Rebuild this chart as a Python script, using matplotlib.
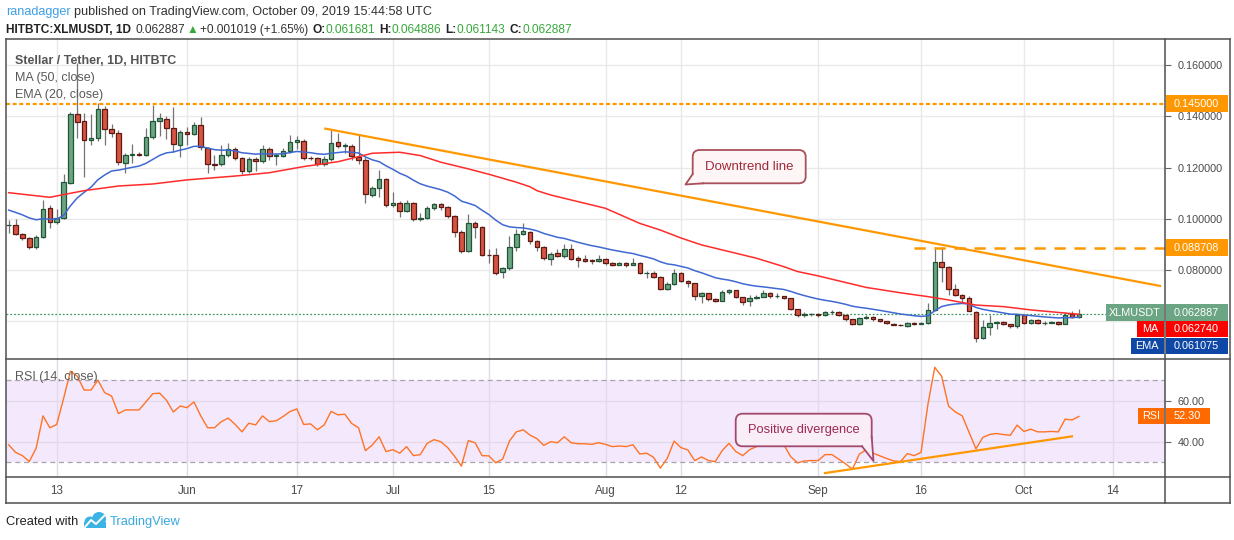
import numpy as np
import pandas as pd
import matplotlib
matplotlib.use("Agg")
import matplotlib.pyplot as plt
import matplotlib.dates as mdates
from matplotlib.patches import Rectangle, FancyBboxPatch, Polygon, Circle

FONT = ["Liberation Sans", "DejaVu Sans"]
plt.rcParams["font.family"] = FONT

# ---- data (XLM/USDT daily, HitBTC) ----
dates = pd.date_range("2019-05-06", "2019-10-09", freq="D")

opens = [0.0974, 0.0976, 0.0940, 0.0924, 0.0891, 0.0928, 0.1041, 0.0986, 0.1002, 0.1139,
         0.1409, 0.1383, 0.1308, 0.1315, 0.1428, 0.1350, 0.1334, 0.1218, 0.1249, 0.1254,
         0.1251, 0.1318, 0.1381, 0.1389, 0.1354, 0.1289, 0.1338, 0.1331, 0.1367, 0.1276,
         0.1215, 0.1213, 0.1248, 0.1272, 0.1237, 0.1187, 0.1232, 0.1224, 0.1272, 0.1245,
         0.1246, 0.1265, 0.1299, 0.1305, 0.1238, 0.1236, 0.1213, 0.1232, 0.1299, 0.1284,
         0.1286, 0.1243, 0.1230, 0.1093, 0.1122, 0.1154, 0.1054, 0.1061, 0.1032, 0.1061,
         0.0998, 0.1004, 0.1041, 0.1057, 0.1045, 0.1012, 0.0950, 0.0876, 0.0982, 0.0967,
         0.0859, 0.0857, 0.0793, 0.0807, 0.0889, 0.0940, 0.0947, 0.0914, 0.0891, 0.0842,
         0.0865, 0.0856, 0.0881, 0.0845, 0.0842, 0.0838, 0.0836, 0.0842, 0.0829, 0.0821,
         0.0827, 0.0821, 0.0826, 0.0787, 0.0790, 0.0774, 0.0725, 0.0745, 0.0787, 0.0758,
         0.0748, 0.0699, 0.0709, 0.0688, 0.0680, 0.0713, 0.0721, 0.0693, 0.0680, 0.0690,
         0.0696, 0.0710, 0.0697, 0.0697, 0.0690, 0.0646, 0.0624, 0.0627, 0.0627, 0.0626,
         0.0635, 0.0636, 0.0623, 0.0607, 0.0588, 0.0611, 0.0616, 0.0607, 0.0600, 0.0588,
         0.0586, 0.0582, 0.0593, 0.0590, 0.0594, 0.0643, 0.0830, 0.0811, 0.0725, 0.0701,
         0.0690, 0.0637, 0.0533, 0.0576, 0.0592, 0.0597, 0.0588, 0.0582, 0.0623, 0.0592,
         0.0605, 0.0594, 0.0594, 0.0597, 0.0591, 0.0628, 0.061681]

highs = [0.0995, 0.0998, 0.0945, 0.0927, 0.0935, 0.1073, 0.1054, 0.1038, 0.1174, 0.1418,
         0.1610, 0.1412, 0.1409, 0.1452, 0.1440, 0.1372, 0.1345, 0.1258, 0.1292, 0.1262,
         0.1353, 0.1445, 0.1412, 0.1400, 0.1438, 0.1347, 0.1360, 0.1379, 0.1399, 0.1280,
         0.1249, 0.1288, 0.1297, 0.1280, 0.1240, 0.1240, 0.1240, 0.1290, 0.1280, 0.1256,
         0.1275, 0.1327, 0.1323, 0.1310, 0.1245, 0.1240, 0.1245, 0.1350, 0.1336, 0.1295,
         0.1292, 0.1331, 0.1240, 0.1130, 0.1191, 0.1160, 0.1106, 0.1070, 0.1075, 0.1065,
         0.1021, 0.1050, 0.1062, 0.1060, 0.1050, 0.1015, 0.0955, 0.1018, 0.0990, 0.0970,
         0.0881, 0.0887, 0.0812, 0.0933, 0.0960, 0.0982, 0.0952, 0.0918, 0.0895, 0.0870,
         0.0881, 0.0902, 0.0902, 0.0855, 0.0859, 0.0843, 0.0859, 0.0846, 0.0832, 0.0832,
         0.0830, 0.0846, 0.0830, 0.0795, 0.0795, 0.0778, 0.0752, 0.0803, 0.0792, 0.0760,
         0.0750, 0.0716, 0.0712, 0.0692, 0.0722, 0.0725, 0.0723, 0.0695, 0.0702, 0.0702,
         0.0722, 0.0716, 0.0710, 0.0700, 0.0692, 0.0648, 0.0635, 0.0632, 0.0631, 0.0640,
         0.0645, 0.0638, 0.0625, 0.0610, 0.0618, 0.0625, 0.0620, 0.0610, 0.0602, 0.0592,
         0.0588, 0.0597, 0.0597, 0.0598, 0.0670, 0.0889, 0.0889, 0.0815, 0.0745, 0.0705,
         0.0698, 0.0640, 0.0605, 0.0624, 0.0600, 0.0600, 0.0590, 0.0628, 0.0628, 0.0610,
         0.0607, 0.0600, 0.0600, 0.0600, 0.0635, 0.0638, 0.064886]

lows = [0.0944, 0.0935, 0.0918, 0.0881, 0.0883, 0.0925, 0.0963, 0.0980, 0.0998, 0.1135,
        0.1314, 0.1164, 0.1290, 0.1305, 0.1289, 0.1320, 0.1210, 0.1180, 0.1217, 0.1245,
        0.1247, 0.1313, 0.1323, 0.1310, 0.1260, 0.1243, 0.1288, 0.1328, 0.1270, 0.1178,
        0.1191, 0.1205, 0.1240, 0.1230, 0.1175, 0.1180, 0.1185, 0.1218, 0.1230, 0.1210,
        0.1240, 0.1258, 0.1271, 0.1230, 0.1230, 0.1205, 0.1205, 0.1225, 0.1278, 0.1256,
        0.1230, 0.1215, 0.1061, 0.1085, 0.1085, 0.1048, 0.1048, 0.1008, 0.1025, 0.0990,
        0.0992, 0.1000, 0.1035, 0.1035, 0.1005, 0.0928, 0.0865, 0.0870, 0.0924, 0.0855,
        0.0829, 0.0780, 0.0767, 0.0800, 0.0875, 0.0935, 0.0900, 0.0875, 0.0840, 0.0820,
        0.0850, 0.0845, 0.0838, 0.0813, 0.0830, 0.0825, 0.0832, 0.0820, 0.0816, 0.0818,
        0.0812, 0.0818, 0.0783, 0.0770, 0.0768, 0.0722, 0.0720, 0.0740, 0.0755, 0.0735,
        0.0683, 0.0670, 0.0680, 0.0675, 0.0678, 0.0708, 0.0690, 0.0665, 0.0661, 0.0685,
        0.0693, 0.0692, 0.0690, 0.0686, 0.0643, 0.0615, 0.0617, 0.0620, 0.0618, 0.0622,
        0.0630, 0.0620, 0.0600, 0.0585, 0.0586, 0.0608, 0.0600, 0.0597, 0.0590, 0.0584,
        0.0582, 0.0578, 0.0587, 0.0588, 0.0590, 0.0640, 0.0752, 0.0702, 0.0698, 0.0670,
        0.0638, 0.0520, 0.0530, 0.0548, 0.0568, 0.0585, 0.0575, 0.0575, 0.0588, 0.0588,
        0.0588, 0.0587, 0.0592, 0.0586, 0.0588, 0.0612, 0.061143]

closes = [0.0977, 0.0940, 0.0924, 0.0889, 0.0928, 0.1037, 0.0986, 0.1002, 0.1143, 0.1409,
          0.1379, 0.1308, 0.1315, 0.1428, 0.1350, 0.1334, 0.1221, 0.1249, 0.1252, 0.1251,
          0.1318, 0.1381, 0.1393, 0.1354, 0.1292, 0.1339, 0.1331, 0.1367, 0.1279, 0.1214,
          0.1212, 0.1248, 0.1272, 0.1237, 0.1187, 0.1232, 0.1224, 0.1272, 0.1245, 0.1249,
          0.1265, 0.1299, 0.1308, 0.1236, 0.1236, 0.1213, 0.1232, 0.1295, 0.1284, 0.1290,
          0.1245, 0.1230, 0.1096, 0.1122, 0.1154, 0.1054, 0.1063, 0.1032, 0.1061, 0.0998,
          0.1004, 0.1041, 0.1057, 0.1045, 0.1012, 0.0950, 0.0876, 0.0982, 0.0967, 0.0859,
          0.0857, 0.0787, 0.0807, 0.0889, 0.0940, 0.0952, 0.0914, 0.0891, 0.0846, 0.0862,
          0.0856, 0.0881, 0.0842, 0.0839, 0.0836, 0.0836, 0.0842, 0.0829, 0.0821, 0.0827,
          0.0821, 0.0826, 0.0787, 0.0790, 0.0774, 0.0725, 0.0745, 0.0787, 0.0758, 0.0748,
          0.0698, 0.0709, 0.0688, 0.0680, 0.0713, 0.0721, 0.0693, 0.0674, 0.0690, 0.0696,
          0.0710, 0.0697, 0.0697, 0.0690, 0.0646, 0.0623, 0.0627, 0.0627, 0.0626, 0.0635,
          0.0636, 0.0623, 0.0607, 0.0588, 0.0613, 0.0618, 0.0607, 0.0602, 0.0593, 0.0586,
          0.0584, 0.0593, 0.0590, 0.0594, 0.0643, 0.0830, 0.0811, 0.0725, 0.0701, 0.0690,
          0.0640, 0.0533, 0.0576, 0.0592, 0.0597, 0.0588, 0.0582, 0.0623, 0.0592, 0.0605,
          0.0592, 0.0594, 0.0597, 0.0591, 0.0625, 0.0617, 0.062887]

rsi = [38.5, 34.8, 33.2, 30.3, 36.8, 52.6, 46.8, 48.4, 61.0, 74.4,
       71.9, 65.2, 65.2, 70.0, 63.9, 62.3, 53.7, 55.5, 55.5, 55.5,
       59.4, 63.4, 63.7, 60.2, 54.5, 57.4, 56.6, 59.4, 52.6, 46.8,
       46.8, 49.8, 51.5, 48.5, 44.8, 49.0, 48.2, 52.6, 49.8, 50.2,
       52.3, 54.7, 56.0, 48.4, 48.7, 45.8, 48.2, 54.8, 53.1, 53.4,
       48.9, 46.8, 35.6, 38.4, 42.4, 35.2, 36.1, 34.4, 37.6, 33.2,
       33.7, 39.2, 41.0, 40.0, 37.1, 32.9, 28.1, 40.5, 39.5, 33.2,
       33.1, 29.7, 31.5, 40.3, 44.8, 45.8, 43.2, 41.5, 38.2, 40.0,
       39.5, 42.4, 39.5, 39.0, 39.0, 38.7, 39.5, 38.7, 37.6, 37.9,
       37.6, 38.5, 34.0, 34.4, 32.4, 27.1, 31.9, 40.3, 37.1, 36.0,
       30.8, 32.6, 30.8, 30.3, 35.6, 39.2, 35.2, 33.2, 36.1, 37.6,
       40.8, 39.0, 40.0, 38.5, 32.7, 29.7, 30.6, 30.8, 30.8, 33.7,
       33.7, 31.5, 29.2, 26.6, 33.9, 36.1, 34.4, 33.1, 31.8, 30.6,
       30.3, 34.2, 33.2, 34.8, 58.2, 76.3, 71.9, 57.4, 54.5, 52.6,
       44.5, 36.5, 42.1, 43.5, 44.0, 43.5, 43.1, 48.1, 45.0, 46.1,
       44.8, 44.8, 45.0, 44.8, 51.0, 50.6, 52.3]

# 50-day MA read at points along the red line
ma_dates = ["2019-05-06", "2019-05-12", "2019-05-17", "2019-05-22", "2019-05-27", "2019-06-01",
            "2019-06-08", "2019-06-13", "2019-06-18", "2019-06-23", "2019-06-28", "2019-07-02",
            "2019-07-05", "2019-07-08", "2019-07-12", "2019-07-15", "2019-07-19", "2019-07-21",
            "2019-07-22", "2019-07-24", "2019-08-01", "2019-08-06", "2019-08-09", "2019-08-12",
            "2019-08-15", "2019-08-19", "2019-08-23", "2019-08-27", "2019-08-29", "2019-09-01",
            "2019-09-03", "2019-09-08", "2019-09-13", "2019-09-17", "2019-09-20", "2019-09-24",
            "2019-09-28", "2019-10-02", "2019-10-09"]
ma_vals = [0.1102, 0.1084, 0.1110, 0.1128, 0.1136, 0.1152, 0.1167, 0.1180, 0.1204, 0.1223,
           0.1256, 0.1260, 0.1247, 0.1221, 0.1195, 0.1174, 0.1143, 0.1125, 0.1110, 0.1093,
           0.1041, 0.0982, 0.0956, 0.0925, 0.0898, 0.0872, 0.0846, 0.0813, 0.0794, 0.0777,
           0.0764, 0.0732, 0.0711, 0.0696, 0.0683, 0.0663, 0.0657, 0.0644, 0.0627]
ema_seed = 0.1034  # EMA(20) value on the first visible day

price_ticks = [0.06, 0.08, 0.10, 0.12, 0.14, 0.16]
price_labels = ["", "0.080000", "0.100000", "0.120000", "0.140000", "0.160000"]
tick_dates = ["2019-05-13", "2019-06-01", "2019-06-17", "2019-07-01", "2019-07-15", "2019-08-01",
              "2019-08-12", "2019-09-01", "2019-09-16", "2019-10-01", "2019-10-14"]
tick_labels = ["13", "Jun", "17", "Jul", "15", "Aug", "12", "Sep", "16", "Oct", "14"]

resist_top = 0.145
resist_mid = 0.088708
resist_mid_from = "2019-09-15"
trend_x = ["2019-06-21", "2019-10-21"]
trend_y = [0.1353, 0.0737]
div_x = ["2019-09-02", "2019-10-08"]
div_y = [24.7, 42.6]

# ---- colours ----
UP, DN = "#6ba583", "#d75442"
UP_EDGE, DN_EDGE = "#225437", "#5b1a13"
WICK = "#737375"
ORANGE = "#ff9800"
GRID = "#e9e9ea"
FRAME = "#4f4f4f"
TXT = "#4a4a4a"

W, H = 1234, 540
fig = plt.figure(figsize=(W / 100, H / 100), dpi=100)
fig.patch.set_facecolor("white")

L, R = 6, 1165
TOP, MID, RB, BOT = 39, 359, 477, 503
ax = fig.add_axes([L / W, 1 - MID / H, (R - L) / W, (MID - TOP) / H])
rax = fig.add_axes([L / W, 1 - RB / H, (R - L) / W, (RB - MID) / H], sharex=ax)

xn = mdates.date2num(dates)
base = mdates.date2num(pd.Timestamp("2019-05-13"))
px_day = 6.86
x0 = base + (L - 56.7) / px_day
x1 = base + (R - 56.7) / px_day

o = np.array(opens); h = np.array(highs); lo = np.array(lows); c = np.array(closes)
up = c >= o

# candles
ax.vlines(xn, lo, h, color=WICK, lw=0.9, zorder=2)
ax.bar(xn[up], (c - o)[up], bottom=o[up], width=0.66, color=UP, edgecolor=UP_EDGE,
       linewidth=0.9, zorder=3)
ax.bar(xn[~up], (o - c)[~up], bottom=c[~up], width=0.66, color=DN, edgecolor=DN_EDGE,
       linewidth=0.9, zorder=3)

# indicators
ema = np.empty_like(c)
ema[0] = ema_seed
k = 2 / 21
for i in range(1, len(c)):
    ema[i] = ema[i - 1] + k * (c[i] - ema[i - 1])
ax.plot(xn, ema, color="#3f68d2", lw=1.1, zorder=4)
ax.plot(mdates.date2num(pd.to_datetime(ma_dates)), ma_vals, color="#ff2b2b", lw=1.1, zorder=4)

# drawings
ax.axhline(closes[-1], color="#3d9a62", lw=0.9, ls=(0, (1.5, 1.5)), zorder=1)
ax.axhline(resist_top, color=ORANGE, lw=1.6, ls=(0, (1.8, 1.2)), zorder=5)
ax.plot([mdates.date2num(pd.Timestamp(resist_mid_from)), x1], [resist_mid] * 2,
        color=ORANGE, lw=1.8, ls=(0, (4.5, 3.5)), zorder=5)
ax.plot(mdates.date2num(pd.to_datetime(trend_x)), trend_y, color=ORANGE, lw=1.6, zorder=5,
        solid_capstyle="butt")

ax.set_xlim(x0, x1)
ax.set_ylim(0.045234, 0.170234)
ax.set_yticks(price_ticks)
ax.set_yticklabels(price_labels)
ax.yaxis.tick_right()
ax.tick_params(axis="y", length=4, width=0.8, color="#666", pad=5, labelsize=7.8, labelcolor=TXT)
ax.tick_params(axis="x", length=0, labelbottom=False)
ax.set_xticks(mdates.date2num(pd.to_datetime(tick_dates)))
ax.grid(True, color=GRID, lw=1)
ax.set_axisbelow(True)
for s in ax.spines.values():
    s.set_visible(False)

# RSI panel
rax.axhspan(30, 70, color="#f4e8fd", zorder=0, lw=0)
rax.plot(xn, rsi, color="#ff7324", lw=1.0, zorder=4)
for lvl in (30, 70):
    rax.axhline(lvl, color="#a8a3ad", lw=0.9, ls=(0, (4, 3)), zorder=2)
rax.plot(mdates.date2num(pd.to_datetime(div_x)), div_y, color=ORANGE, lw=1.6, zorder=5)
rax.set_ylim(22.78, 80.34)
rax.set_yticks([40, 60])
rax.set_yticklabels(["40.00", "60.00"])
rax.yaxis.tick_right()
rax.tick_params(axis="y", length=4, width=0.8, color="#666", pad=5, labelsize=7.8, labelcolor=TXT)
rax.set_xticks(mdates.date2num(pd.to_datetime(tick_dates)))
rax.set_xticklabels(tick_labels)
rax.tick_params(axis="x", length=0, pad=6, labelsize=8.4, labelcolor=TXT)
rax.grid(True, color="#e2dae9", lw=1)
rax.set_axisbelow(True)
for s in rax.spines.values():
    s.set_visible(False)

# ---- overlay in pixel units for frame, labels and callouts ----
ov = fig.add_axes([0, 0, 1, 1], zorder=10)
ov.set_xlim(0, W)
ov.set_ylim(H, 0)
ov.axis("off")

RIGHT = 1230
for (xa, ya, xb, yb) in [(L, TOP, RIGHT, TOP), (L, MID, RIGHT, MID), (L, RB, RIGHT, RB),
                         (L, BOT, RIGHT, BOT), (L, TOP, L, BOT), (R, TOP, R, BOT),
                         (RIGHT, TOP, RIGHT, BOT)]:
    ov.plot([xa, xb], [ya, yb], color=FRAME, lw=1.1, solid_capstyle="projecting")


def price_px(p):
    d = ax.transData.transform((x0, p))
    return ov.transData.inverted().transform(d)[1]


def tag(y, text, color, x_a=R + 1, x_b=1228, hh=16.5):
    ov.add_patch(Rectangle((x_a, y - hh / 2), x_b - x_a, hh, color=color, lw=0, zorder=3))
    ov.text(x_a + 8, y, text, color="white", fontsize=7.8, va="center", ha="left", zorder=4)


def left_tag(y, text, color, x_a, hh=16.5):
    ov.add_patch(Rectangle((x_a, y - hh / 2), R - 1.5 - x_a, hh, color=color, lw=0, zorder=3))
    ov.text((x_a + R - 1.5) / 2, y, text, color="white", fontsize=7.8, va="center",
            ha="center", zorder=4)


tag(price_px(resist_top), "0.145000", ORANGE)
tag(price_px(resist_mid), "0.088708", ORANGE)
left_tag(312.5, "XLMUSDT", "#6ba583", 1106)
tag(312.5, "0.062887", "#6ba583")
left_tag(329.2, "MA", "#ff0000", 1137)
tag(329.2, "0.062740", "#ff0000")
left_tag(345.9, "EMA", "#0f47a6", 1131)
tag(345.9, "0.061075", "#0f47a6")
left_tag(416, "RSI", "#ff6a00", 1138)
tag(416, "52.30", "#ff6a00", x_b=1210)

# legends inside panels
ov.text(15, 61, "Stellar / Tether, 1D, HITBTC", fontsize=9, color="#555", fontweight="bold",
        va="center", zorder=4)
ov.text(15, 78, "MA (50, close)", fontsize=9, color="#5a5a5a", va="center", zorder=4)
ov.text(15, 95, "EMA (20, close)", fontsize=9, color="#5a5a5a", va="center", zorder=4)
ov.text(15, 377, "RSI (14, close)", fontsize=9, color="#5a5a5a", va="center", zorder=4)


def callout(x_a, y_a, x_b, y_b, tail, text, edge, face, tcol, size):
    ov.add_patch(FancyBboxPatch((x_a, y_a), x_b - x_a, y_b - y_a,
                                boxstyle="round,pad=0,rounding_size=7",
                                fc=face, ec=edge, lw=1.3, zorder=5))
    ov.add_patch(Polygon(tail, closed=True, fc=face, ec="none", zorder=6))
    ov.plot([tail[0][0], tail[1][0], tail[2][0]], [tail[0][1], tail[1][1], tail[2][1]],
            color=edge, lw=1.3, zorder=7)
    ov.text((x_a + x_b) / 2, (y_a + y_b) / 2, text, color=tcol, fontsize=size,
            ha="center", va="center", zorder=8)


callout(692.7, 150, 805.7, 183.3, [(692.7, 174), (685.5, 184.5), (703, 183.3)],
        "Downtrend line", "#a9505a", "#fdf5f6", "#a0283a", 9.5)
callout(735.7, 413.7, 871.7, 446.3, [(862, 446.3), (873.5, 461), (871.7, 437)],
        "Positive divergence", "#a24a6c", "#f9edf7", "#9c2a52", 9.3)

# header lines
renderer = fig.canvas.get_renderer()


def runs(x, y, parts, size):
    for txt, col, wt, gap in parts:
        t = ov.text(x, y, txt, color=col, fontsize=size, fontweight=wt, va="center", ha="left",
                    family=FONT, zorder=4)
        x += t.get_window_extent(renderer=renderer).width + gap


GRN = "#37a83a"
runs(6, 12, [("ranadagger", "#3d9fe6", "normal", 3.2),
             ("published on TradingView.com, October 09, 2019 15:44:58 UTC", "#333", "normal", 0)],
     9.1)
runs(6, 30, [("HITBTC:XLMUSDT, 1D", "#222", "bold", 4),
             ("0.062887", "#333", "normal", 2),
             ("▲", GRN, "normal", 2),
             ("+0.001019 (+1.65%)", "#333", "normal", 4),
             ("O:", "#222", "bold", 0), ("0.061681", GRN, "normal", 4),
             ("H:", "#222", "bold", 0), ("0.064886", GRN, "normal", 4),
             ("L:", "#222", "bold", 0), ("0.061143", GRN, "normal", 4),
             ("C:", "#222", "bold", 0), ("0.062887", GRN, "normal", 0)], 8.6)

# footer
ov.text(6, 522, "Created with", fontsize=9.3, color="#222", va="center", zorder=4)
ov.add_patch(Circle((90, 522), 5.5, color="#3bb3e4", lw=0, zorder=4))
ov.add_patch(Circle((99, 519), 7, color="#3bb3e4", lw=0, zorder=4))
ov.add_patch(Rectangle((84, 522), 22, 6, color="#3bb3e4", lw=0, zorder=4))
ov.plot([85, 91, 96, 104], [527, 520, 524, 516], color="white", lw=1.4, zorder=5)
ov.text(110, 522, "TradingView", fontsize=9.3, color="#3aa8e0", va="center", zorder=4)

fig.savefig("out.png", dpi=100, facecolor="white")
